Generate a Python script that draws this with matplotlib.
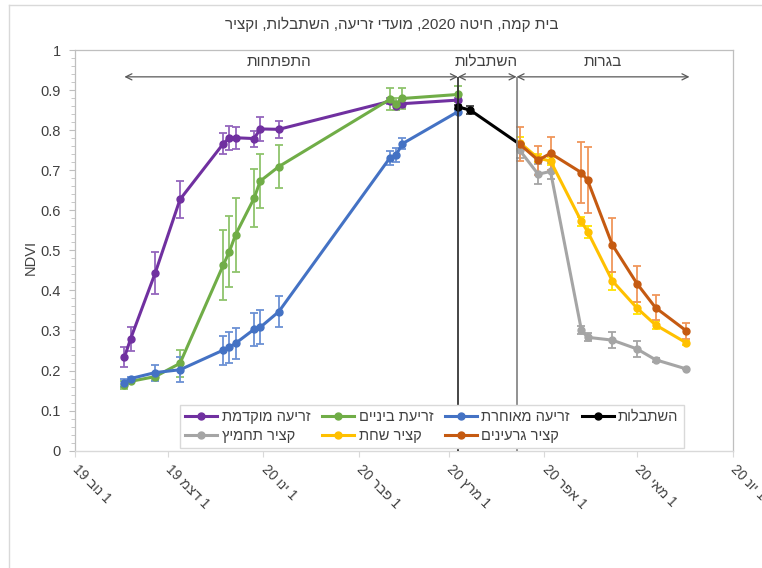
import re
import numpy as np
import pandas as pd
import matplotlib
matplotlib.use('Agg')
import matplotlib.pyplot as plt
import matplotlib.dates as mdates
from matplotlib.lines import Line2D
from matplotlib.ticker import FixedLocator, MultipleLocator, FuncFormatter

plt.rcParams['font.family'] = ['Liberation Sans', 'DejaVu Sans']


def vis(s):
    """Logical Hebrew string -> visual (left-to-right) order, digits kept."""
    tokens = re.findall(r'\d+(?:\.\d+)?|\D', s)
    return ''.join(reversed(tokens))


# ---------------- data ----------------
title = 'בית קמה, חיטה 2020, מועדי זריעה, השתבלות, וקציר'
y_label = 'NDVI'

sowing_dates = ['2019-11-17', '2019-11-19', '2019-11-27', '2019-12-05', '2019-12-19',
                '2019-12-21', '2019-12-23', '2019-12-29', '2019-12-31', '2020-01-06',
                '2020-02-11', '2020-02-13', '2020-02-15', '2020-03-04']
early_sowing = [0.233, 0.279, 0.444, 0.627, 0.766, 0.781, 0.781, 0.779, 0.803, 0.802,
                0.872, 0.860, 0.866, 0.875]
early_err = [0.025, 0.030, 0.052, 0.047, 0.026, 0.030, 0.027, 0.020, 0.030, 0.021,
             0.008, 0.010, 0.010, 0.005]
mid_sowing = [0.165, 0.173, 0.185, 0.218, 0.463, 0.497, 0.539, 0.630, 0.673, 0.709,
              0.877, 0.865, 0.879, 0.889]
mid_err = [0.010, 0.005, 0.008, 0.034, 0.087, 0.089, 0.092, 0.072, 0.068, 0.054,
           0.027, 0.015, 0.027, 0.020]
late_sowing = [0.169, 0.180, 0.195, 0.202, 0.251, 0.258, 0.268, 0.303, 0.308, 0.347,
               0.731, 0.738, 0.766, 0.846]
late_err = [0.010, 0.005, 0.020, 0.031, 0.036, 0.039, 0.038, 0.041, 0.042, 0.039,
            0.017, 0.017, 0.014, 0.005]

heading_dates = ['2020-03-04', '2020-03-08', '2020-03-24']
heading = [0.858, 0.850, 0.765]
heading_err = [0.005, 0.010, 0.0]

harvest_dates = ['2020-03-24', '2020-03-30', '2020-04-03', '2020-04-13', '2020-04-15',
                 '2020-04-23', '2020-05-01', '2020-05-07', '2020-05-17']
silage = [0.750, 0.690, 0.697, 0.301, 0.283, 0.276, 0.254, 0.227, 0.204]
silage_err = [0.020, 0.025, 0.020, 0.010, 0.010, 0.020, 0.020, 0.005, 0.0]
hay = [0.769, 0.730, 0.723, 0.572, 0.547, 0.424, 0.356, 0.314, 0.269]
hay_err = [0.015, 0.010, 0.010, 0.010, 0.015, 0.022, 0.015, 0.010, 0.005]
grain = [0.765, 0.725, 0.742, 0.694, 0.675, 0.514, 0.417, 0.357, 0.299]
grain_err = [0.042, 0.036, 0.042, 0.077, 0.082, 0.067, 0.045, 0.032, 0.020]

series_names = ['זריעה מוקדמת', 'זריעת ביניים', 'זריעה מאוחרת', 'השתבלות',
                'קציר תחמיץ', 'קציר שחת', 'קציר גרעינים']

phase_names = ['התפתחות', 'השתבלות', 'בגרות']
phase_bounds = ['2019-11-17', '2020-03-04', '2020-03-23', '2020-05-18']
phase_label_dates = ['2020-01-06', '2020-03-13', '2020-04-20']

x_tick_dates = ['2019-11-01', '2019-12-01', '2020-01-01', '2020-02-01', '2020-03-01',
                '2020-04-01', '2020-05-01', '2020-06-01']
x_tick_labels = ['1 נוב 19', '1 דצמ 19', '1 ינו 20', '1 פבר 20', '1 מרץ 20',
                 '1 אפר 20', '1 מאי 20', '1 יונ 20']
y_ticks = [0, 0.1, 0.2, 0.3, 0.4, 0.5, 0.6, 0.7, 0.8, 0.9, 1.0]

# ---------------- figure ----------------
W, H = 762, 568
fig = plt.figure(figsize=(W / 100, H / 100), dpi=100)
fig.patch.set_facecolor('white')

# outer chart border (light gray, extends beyond the right/bottom edges)
fig.add_artist(Line2D([9 / W, 1.0], [1 - 5 / H, 1 - 5 / H], transform=fig.transFigure,
                      color='#d9d9d9', lw=1.0))
fig.add_artist(Line2D([9 / W, 9 / W], [0.0, 1 - 5 / H], transform=fig.transFigure,
                      color='#d9d9d9', lw=1.0))

ax = fig.add_axes([75 / W, 1 - 450.7 / H, 657.7 / W, 400.7 / H])

text_col = '#404040'


def d(lst):
    return mdates.date2num(pd.to_datetime(lst))


groups = [
    (sowing_dates, early_sowing, early_err, '#7030A0', '#9466bd', series_names[0]),
    (sowing_dates, mid_sowing, mid_err, '#70AD47', '#8fc46c', series_names[1]),
    (sowing_dates, late_sowing, late_err, '#4472C4', '#6b91d4', series_names[2]),
    (heading_dates, heading, heading_err, '#000000', '#404040', series_names[3]),
    (harvest_dates, silage, silage_err, '#A5A5A5', '#a5a5a5', series_names[4]),
    (harvest_dates, hay, hay_err, '#FFC000', '#ffe400', series_names[5]),
    (harvest_dates, grain, grain_err, '#C55A11', '#f0965a', series_names[6]),
]

handles = {}
for xs, ys, es, col, ecol, name in groups:
    xx = d(xs)
    ax.errorbar(xx, ys, yerr=es, fmt='none', ecolor=ecol, elinewidth=1.3,
                capsize=3, capthick=1.3, zorder=3)
    ln, = ax.plot(xx, ys, '-o', color=col, lw=2.2, ms=5, zorder=4, label=vis(name))
    handles[name] = ln

# phase boundaries and arrows
pb = d(phase_bounds)
pl = d(phase_label_dates)
arrow_y = 0.933
label_y = 0.971
ax.vlines([pb[1]], 0, arrow_y, colors='#262626', lw=1.2, zorder=5)
ax.vlines([pb[2]], 0, arrow_y, colors='#7f7f7f', lw=1.2, zorder=5)
for i, name in enumerate(phase_names):
    ax.annotate('', xy=(pb[i + 1], arrow_y), xytext=(pb[i], arrow_y),
                arrowprops=dict(arrowstyle='<->', color='#595959', lw=0.9,
                                shrinkA=0, shrinkB=0, mutation_scale=11))
    ax.text(pl[i], label_y, vis(name), ha='center', va='center',
            fontsize=11, color=text_col)

# axes
ax.set_xlim(d(['2019-11-01'])[0], d(['2020-06-01'])[0])
ax.set_ylim(0, 1)
ax.xaxis.set_major_locator(FixedLocator(d(x_tick_dates)))
ax.set_xticklabels([vis(t) for t in x_tick_labels])
ax.yaxis.set_major_locator(FixedLocator(y_ticks))
ax.yaxis.set_minor_locator(MultipleLocator(0.02))
ax.yaxis.set_major_formatter(FuncFormatter(lambda v, p: '%g' % round(v, 2)))

for s in ['top', 'right', 'left']:
    ax.spines[s].set_color('#bfbfbf')
    ax.spines[s].set_linewidth(0.9)
ax.spines['bottom'].set_color('#d9d9d9')
ax.spines['bottom'].set_linewidth(1.0)

ax.tick_params(axis='y', which='major', length=4, color='#bfbfbf', labelsize=10.5,
               labelcolor=text_col, pad=6)
ax.tick_params(axis='y', which='minor', length=3, color='#bfbfbf')
ax.tick_params(axis='x', which='major', length=4, color='#d9d9d9', labelsize=10,
               labelcolor=text_col, pad=8)
for lab in ax.get_xticklabels():
    lab.set_rotation(-45)
    lab.set_rotation_mode('anchor')
    lab.set_ha('left')
    lab.set_va('center')

fig.text(31 / W, 1 - 257 / H, y_label, rotation=90, ha='center', va='center',
         fontsize=10.5, color=text_col)
fig.text(392 / W, 1 - 24 / H, vis(title), ha='center', va='center', fontsize=11,
         color=text_col)

# legend (column-major order to get the two rows of the reference)
order = [series_names[i] for i in [0, 4, 1, 5, 2, 6, 3]]
leg = ax.legend([handles[n] for n in order], [vis(n) for n in order], ncol=4,
                loc='lower left', bbox_to_anchor=(0.16, 0.007), borderaxespad=0,
                fontsize=10.5, frameon=True, fancybox=False, edgecolor='#d9d9d9',
                framealpha=1.0, handlelength=2.2, handletextpad=0.3,
                columnspacing=0.8, labelspacing=0.35, borderpad=0.35)
leg.get_frame().set_linewidth(1.0)
for t in leg.get_texts():
    t.set_color(text_col)

fig.savefig('out.png', dpi=100)
